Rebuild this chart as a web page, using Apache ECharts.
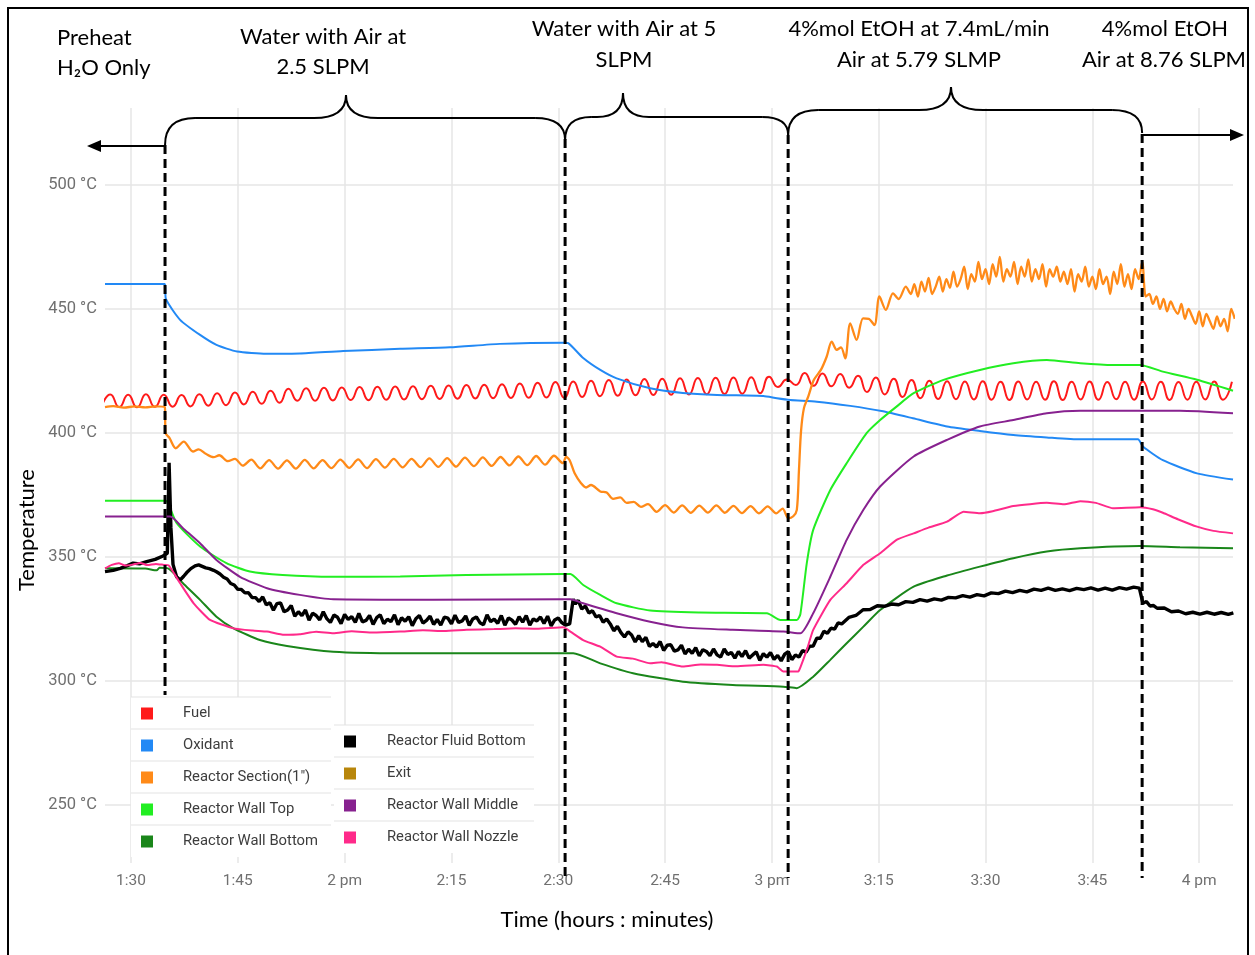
<!DOCTYPE html>
<html><head><meta charset="utf-8">
<script src="https://cdn.jsdelivr.net/npm/echarts@6/dist/echarts.min.js"></script>
<style>html,body{margin:0;padding:0;background:#fff}#c{width:1255px;height:955px}</style>
</head><body><div id="c"></div>
<script>
// time is in minutes after 12:00 (90 = 1:30 pm)
const xTickValues = [90,105,120,135,150,165,180,195,210,225,240];
const xTickLabels = ['1:30','1:45','2 pm','2:15','2:30','2:45','3 pm','3:15','3:30','3:45','4 pm'];
const yTickValues = [250,300,350,400,450,500];
const yTickLabels = ['250 °C','300 °C','350 °C','400 °C','450 °C','500 °C'];

const seriesNames = ['Fuel','Oxidant','Reactor Section(1")','Reactor Wall Top','Reactor Wall Bottom',
  'Reactor Fluid Bottom','Exit','Reactor Wall Middle','Reactor Wall Nozzle'];
const seriesColors = ['#ff1a1a','#2289f5','#ff8a18','#22ee22','#1a861a','#000000','#b8860b','#87218f','#ff2a8a'];
const seriesWidths = [2, 2, 2.3, 2, 2, 3.4, 2, 2, 2];

// phase change times (dashed lines)
const eventTimes = [94.78, 150.96, 182.28, 231.99];

// Fuel: oscillating signal sampled at its peaks / troughs
const fuelStart = 85.85, fuelStep = 1.25;
const fuelValues = [410.5,415.5,410.4,415.4,410.3,415.6,410.5,415.4,410.6,415.3,410.7,415.6,411.0,416.0,411.2,416.3,
411.5,416.6,411.8,417.0,412.2,417.8,413.0,418.0,413.0,418.2,413.1,418.3,413.3,418.5,413.2,418.6,413.4,418.7,413.5,418.8,
413.6,419.0,413.7,419.1,413.8,419.3,413.9,419.4,414.0,419.6,414.1,419.9,414.2,420.2,414.3,420.5,414.1,420.7,414.5,421.0,
414.8,421.3,415.0,421.5,415.2,421.7,415.3,421.8,415.4,422.0,415.5,422.1,415.6,422.2,415.7,422.3,415.8,422.4,416.0,422.6,
418.5,421.5,419.3,424.2,419.0,424.0,418.8,423.8,418.2,423.0,416.5,422.3,415.5,421.8,414.5,421.3,414.0,421.0,413.7,420.8,
413.6,420.7,413.5,420.8,413.4,420.6,413.3,420.7,413.5,420.6,413.4,420.8,413.3,420.6,413.5,420.7,413.4,420.5,413.6,420.6,
413.4,420.7,413.5,420.6,413.3,420.5,413.4,420.6,413.5,420.7,413.4,420.6];

const oxidant = [[86.35,460],[94.75,460],[94.9,454],[96.9,445.6],[99.7,439.5],[102,435.5],[104.9,432.8],[109,431.9],[113.7,432],
[119.8,433],[127.8,433.9],[134.8,434.5],[141.8,435.9],[150.7,436.4],[151.4,436.2],[153.5,430.2],[155.9,425.4],[158.2,422],
[162.9,418],[167.5,416.1],[172.3,415.3],[178.8,414.9],[180.7,414],[182.6,413.3],[186.3,412.6],[191,410.9],[195.4,408.8],
[199.8,405.9],[204.6,402.6],[209.2,400.8],[213.9,399.2],[218.6,398.2],[223.3,397.4],[231.4,397.4],[232.1,394.5],[234.9,389],
[239.7,383.7],[244.75,381.2]];

const reactorSection = [[86.35,410.4],[87.5,410.8],[89,410.2],[90.5,410.7],[92,410.3],[93.5,410.7],[94.75,410.4],[94.85,400],
[95.4,398],[96.3,393.8],[97.4,396.5],[98.7,392.5],[99.5,393.4],[100.5,391.6],[101.6,390.2],[102.4,391],[103.6,388.6],[104.6,389.5],
[105.7,386.8],[106.9,389.2],[108.15,385.7],[109.4,389.0],[110.65,385.6],[111.9,388.9],[113.15,385.6],[114.4,389.1],[115.65,385.7],
[116.9,389.0],[118.15,385.8],[119.4,389.2],[120.65,385.9],[121.9,389.3],[123.15,385.8],[124.4,389.4],[125.65,386.0],[126.9,389.5],
[128.15,386.1],[129.4,389.5],[130.65,386.2],[131.9,389.7],[133.15,386.3],[134.4,389.8],[135.65,386.4],[136.9,390.0],[138.15,386.6],
[139.4,390.1],[140.65,386.7],[141.9,390.3],[143.15,386.9],[144.4,390.5],[145.65,387.0],[146.9,390.7],[148.15,387.2],[149.4,390.8],
[150.65,387.8],[151.1,390.3],[151.6,389.0],[152.3,383.7],[153.2,379.7],[153.9,378.0],[154.6,379.0],[155.9,376.4],[156.8,376.0],
[157.7,373.4],[158.7,374.0],[159.6,371.8],[160.6,372.2],[161.6,370.2],[162.6,371.3],[163.8,368.2],[165.0,370.9],[166.2,367.9],
[167.4,370.8],[168.6,367.8],[169.8,370.7],[171.0,367.9],[172.2,370.8],[173.4,367.8],[174.6,370.6],[175.8,367.7],[177.0,370.5],
[178.2,367.6],[179.4,370.4],[180.6,367.6],[181.5,369.5],[182.3,365.6],[183.0,366.4],[183.5,369.0],[183.8,385],[184.1,401],
[184.5,410],[185.1,414.6],[185.9,421.4],[186.9,425.5],[187.7,430.8],[188.4,436.8],[189.1,433.5],[189.7,434.5],[190.3,430.1],
[191.0,444.2],[191.9,437.5],[192.8,446.2],[193.6,446],[194.4,443.5],[195.1,455],[196.0,449.6],[197.0,456.3],[197.8,454],
[198.8,459],[199.5,456]];
// noisy part of Reactor Section after 3:20, every half minute
const reactorNoiseStart = 200, reactorNoiseStep = 0.5;
const reactorNoise = [460,455,461,457,462.5,456,459,463,457,462,458.5,465,459,462,467,458,464,461,469,462,
466,460,468,463,471,461,466,463,469,460,467,463,470,461,466,462,468,459,466,463,
467,461,465,460,466,457,464,461,467,459,463,458,466,460,463,456,465,460,468,459,
464,458,466,462,469,455,456,452,455,450,454,449,453,450,448,452,446,450,447,444,
449,443,448,445,442,447,443,446,441,450,446];

const wallTop = [[86.35,372.7],[94.9,372.7],[95.2,371.8],[96.4,363.7],[99.7,354.2],[103.4,347.5],[106.7,344.1],[111.3,342.7],
[118.4,342.0],[127.8,342.1],[137.1,342.7],[150.7,343.1],[151.7,343.1],[153.5,338.7],[155.9,334.7],[158.2,331.3],[162.9,328.4],
[169.9,327.6],[179.3,327.3],[181.2,324.6],[183.5,324.6],[184.0,327],[184.9,347.5],[185.8,360.9],[188.2,377],[190.5,387.8],
[193.3,399.9],[195.2,405.2],[197.5,410.6],[199.9,416],[204.1,421.4],[209.2,425.4],[213.9,428.1],[218.6,429.4],[223.3,428.1],
[227.9,427.4],[231.7,427.4],[234.9,424.7],[239.7,421.4],[244.75,417]];

const wallBottom = [[86.35,345.4],[92,345.3],[93.6,344.6],[94.0,345.6],[95.2,345.4],[97.3,339.4],[99.7,332.7],[102,325.9],
[104.4,321.2],[108.1,316.5],[111.9,314.1],[118.4,311.8],[127.8,311.2],[150.7,311.2],[152.1,311.2],[155.9,307.1],[160.5,303.1],
[167.5,299.7],[174.5,298.4],[181.6,297.7],[183.5,297.1],[185.8,301.7],[188.2,308.5],[190.5,315.2],[192.85,321.9],[195.2,328.6],
[199.9,338],[204.6,342.5],[209.2,346.1],[213.9,349.5],[218.6,352.2],[223.3,353.5],[231.7,354.4],[237.3,353.9],[244.75,353.5]];

const fluidBottom = [[86.35,344.1],[87.5,344.6],[88.5,345.4],[89.5,346.5],[90.3,347.5],[91.2,347.2],[92.2,348.1],[93.4,349.0],
[94.5,350.4],[95.1,351.5],[95.35,388],[95.6,362],[95.9,347],[96.4,342],[96.9,340.7],[97.4,342.2],[97.8,343.6],[98.4,345.3],
[99.0,346.4],[99.5,346.8],[100.0,346.2],[100.5,345.6],[101.0,345.3],[101.6,344.6],[102.0,344.0],[102.5,343.1],[103.0,341.8],
[103.5,341.1],[104,339.3],[104.5,338.7],[105,336.9],[105.5,336.9],[106,335.5],[106.5,335.6],[107,333.6],[107.5,333.6],[108,332.0],
[108.5,333.9],[109,330.7],[109.5,331.5],[110,328.5],[110.5,331.2],[111,331.5],[111.5,327.9],[112,328.6],[112.5,330.4],[113,326.1],
[113.5,327.9],[114,326.3],[114.5,328.6],[115,324.5],[115.5,327.3],[116,326.4],[116.5,324.6],[117,327.9],[117.5,325.1],[118,323.6],
[118.5,326.6],[119,325.7],[119.5,323.1],[120,326.8],[120.5,324.8],[121,325.9],[121.5,323.6],[122,327.2],[122.5,323.8],[123,324.4],
[123.5,326.4],[124,322.8],[124.5,325.5],[125,326.6],[125.5,323.1],[126,324.9],[126.5,323.9],[127,326.7],[127.5,322.7],[128,325.5],
[128.5,324.1],[129,325.9],[129.5,322.3],[130,325.1],[130.5,326.4],[131,323.3],[131.5,324.4],[132,326.1],[132.5,322.8],[133,324.8],
[133.5,322.5],[134,325.7],[134.5,325.3],[135,323.0],[135.5,326.5],[136,323.6],[136.5,324.2],[137,326.2],[137.5,322.4],[138,325.0],
[138.5,325.8],[139,323.5],[139.5,322.7],[140,326.7],[140.5,323.9],[141,324.9],[141.5,323.2],[142,326.4],[142.5,322.5],[143,325.4],
[143.5,324.5],[144,322.8],[144.5,325.9],[145,323.7],[145.5,326.4],[146,322.5],[146.5,325.0],[147,324.2],[147.5,325.8],[148,323.2],
[148.5,326.1],[149,322.2],[149.5,324.6],[150,325.4],[150.5,323.5],[151.0,322.5],[151.6,323.0],[152.1,333.0],[152.4,331.0],
[152.8,332.5],[153.3,329.0],[153.8,330.2],[154.3,327.4],[154.8,328.3],[155.3,325.8],[155.8,326.4],[156.3,323.7],[156.8,325.0],
[157.3,323.0],[157.8,320.2],[158.3,322.0],[158.8,319.5],[159.3,317.7],[159.8,319.8],[160.3,318.5],[160.8,315.7],[161.3,318.3],
[161.8,315.8],[162.3,317.6],[162.8,313.9],[163.3,315.1],[163.8,313.7],[164.3,315.9],[164.8,312.3],[165.3,314.4],[165.8,314.6],
[166.3,312.0],[166.8,312.5],[167.3,314.4],[167.8,310.9],[168.3,312.8],[168.8,311.1],[169.3,313.4],[169.8,310.1],[170.3,312.6],
[170.8,311.9],[171.3,310.2],[171.8,312.9],[172.3,310.5],[172.8,309.6],[173.3,312.9],[173.8,310.7],[174.3,311.5],[174.8,309.2],
[175.3,311.9],[175.8,309.8],[176.3,312.2],[176.8,309.2],[177.3,310.5],[177.8,311.7],[178.3,308.3],[178.8,311.0],[179.3,309.6],
[179.8,311.5],[180.3,308.7],[180.8,310.3],[181.3,308.1],[181.8,310.8],[182.3,311.8],[182.8,308.6],[183.3,310.5],[183.8,309.6],
[184.3,312.2],[184.8,311.6],[185.3,314.0],[185.8,314.1],[186.3,317.2],[186.8,317.2],[187.3,320.0],[187.8,319.2],[188.3,321.3],
[188.8,320.9],[189.3,323.4],[189.8,323.0],[190.8,325.6],[191.8,326.4],[192.8,328.7],[193.8,328.8],[194.8,330.3],[195.8,330.1],
[196.8,331.0],[197.8,330.7],[198.8,332.0],[199.8,331.7],[200.8,332.8],[201.8,332.2],[202.8,333.1],[203.8,332.6],[204.8,333.7],
[205.8,333.5],[206.8,334.4],[207.8,333.8],[208.8,334.8],[209.8,334.3],[210.8,335.5],[211.8,335.2],[212.8,336.2],[213.8,335.6],
[214.8,336.5],[215.8,335.9],[216.8,337.0],[217.8,336.5],[218.8,337.4],[219.8,336.5],[220.8,337.1],[221.8,336.4],[222.8,337.3],
[223.8,336.8],[224.8,337.5],[225.8,336.6],[226.8,337.4],[227.8,336.6],[228.8,337.6],[229.8,337.0],[230.8,337.8],[231.6,337.4],
[232.1,331.3],[232.6,332.0],[233.1,330.2],[233.6,330.4],[234.1,329.3],[235.1,329.4],[236.1,327.9],[237.1,328.2],[238.1,327.1],
[239.1,327.7],[240.1,326.9],[241.1,327.7],[242.1,326.9],[243.1,327.6],[244.1,326.8],[244.8,327.4]];

const exitTemp = [];

const wallMiddle = [[86.35,366.3],[95.5,366.3],[97.3,361.6],[99.7,355.5],[102,348.8],[105.3,342],[109.1,337.4],[113.7,334.7],
[118.4,332.9],[132.4,332.7],[150.7,332.9],[151.7,332.9],[153.5,331.3],[158.2,327.3],[162.9,323.9],[167.5,321.6],[174.5,320.6],
[181.6,319.9],[184.0,319.2],[185.8,327.3],[188.2,342],[190.5,356.9],[192.85,369],[195.2,378.4],[199.9,390.5],[204.6,397.2],
[209.2,402.6],[213.9,405.2],[218.6,407.9],[223.3,408.9],[231.7,408.9],[237.3,408.9],[244.75,407.9]];

const wallNozzle = [[86.35,345.4],[87.3,346.8],[88.3,347.5],[89.2,346.5],[90.2,346.9],[91.3,347.6],[92.3,346.7],[93.5,347.2],
[94.6,346.8],[95.3,346.6],[96.9,339.4],[98.8,331.3],[101.1,324.6],[104.4,321.2],[107.1,320.3],[109.1,319.9],[111.5,318.6],
[113.7,318.8],[116,319.8],[118.4,319.2],[121,320.0],[124,319.5],[127.8,319.9],[131,320.4],[134,320.1],[137.1,320.6],[141,320.9],
[144,321.2],[147,321.0],[150.7,321.6],[151.7,319.9],[153.5,316.5],[155.9,313.8],[158.2,309.8],[160.5,309.0],[162.9,307.1],
[164.5,307.5],[167.5,305.8],[170,306.6],[172.3,306.5],[175,305.9],[178.8,306.5],[180.7,305.8],[181.6,303.8],[183.7,303.8],
[184.0,305.5],[184.9,312.5],[185.8,320.6],[188.2,332.7],[190.5,339.4],[192.85,346.8],[195.2,351.5],[197.5,356.9],[199.9,359.5],
[202,361.8],[204.6,364.2],[206.9,368.2],[209.2,367.6],[211,368.4],[213.9,370.5],[218.6,371.8],[221,371.2],[223.3,372.5],
[225.5,371.8],[227.9,369.6],[231.7,370.0],[233.5,369.2],[234.9,367.8],[237,365.2],[239.7,362.2],[242,360.5],[244.75,359.5]];

// ---- build series data ----
const fuel = fuelValues.map((v, i) => [fuelStart + i * fuelStep, v]);
const reactorAll = reactorSection.concat(reactorNoise.map((v, i) => [reactorNoiseStart + i * reactorNoiseStep, v]));
const seriesData = [fuel, oxidant, reactorAll, wallTop, wallBottom, fluidBottom, exitTemp, wallMiddle, wallNozzle];
const seriesSmooth = [0.55, 0.2, 0.3, 0.2, 0.2, false, false, 0.2, 0.15];

const FONT = 'Lato, "Open Sans", sans-serif';

const option = {
  animation: false,
  backgroundColor: '#ffffff',
  grid: { left: 105, right: 22, top: 108, bottom: 92, containLabel: false },
  xAxis: {
    type: 'value', min: 86.35, max: 244.75,
    axisLine: { show: false }, axisTick: { show: false, customValues: xTickValues },
    axisLabel: { customValues: xTickValues, margin: 10, color: '#707070', fontSize: 15.5, fontFamily: 'Roboto, Arial, sans-serif',
      formatter: v => xTickLabels[xTickValues.indexOf(v)] },
    splitLine: { show: true, lineStyle: { color: '#e6e6e6', width: 1.5 } }
  },
  yAxis: {
    type: 'value', min: 226.6, max: 531,
    axisLine: { show: false }, axisTick: { show: false, customValues: yTickValues },
    axisLabel: { customValues: yTickValues, margin: 8, color: '#707070', fontSize: 16.5, fontFamily: 'Roboto, Arial, sans-serif',
      formatter: v => yTickLabels[yTickValues.indexOf(v)] },
    splitLine: { show: true, lineStyle: { color: '#e6e6e6', width: 1.5 } }
  },
  legend: [
    { data: seriesNames.slice(0, 5), left: 131, top: 697, orient: 'vertical', icon: 'rect', itemWidth: 12, itemHeight: 12,
      itemGap: 17, padding: [9, 10, 11, 10], selectedMode: false, itemStyle: { borderWidth: 0 },
      formatter: n => '{n|' + n + '}',
      textStyle: { rich: { n: { padding: [0, 0, 0, 25], fontSize: 14.8, color: '#3d3d3d', fontFamily: 'Roboto, sans-serif' } } } },
    { data: seriesNames.slice(5), left: 334, top: 725, orient: 'vertical', icon: 'rect', itemWidth: 12, itemHeight: 12,
      itemGap: 17, padding: [9, 10, 11, 10], selectedMode: false, itemStyle: { borderWidth: 0 },
      formatter: n => '{n|' + n + '}',
      textStyle: { rich: { n: { padding: [0, 0, 0, 26], fontSize: 14.8, color: '#3d3d3d', fontFamily: 'Roboto, sans-serif' } } } }
  ],
  series: seriesNames.map((name, i) => ({
    name, type: 'line', data: seriesData[i], color: seriesColors[i],
    showSymbol: false, symbol: 'none', smooth: seriesSmooth[i], sampling: null,
    lineStyle: { width: seriesWidths[i], color: seriesColors[i] }, emphasis: { disabled: true }, z: 2
  }))
};

const chart = echarts.init(document.getElementById('c'));
chart.setOption(option);

// ---- annotations (phase markers, braces, labels) ----
const ex = eventTimes.map(t => chart.convertToPixel({ xAxisIndex: 0 }, t));
const g = [];
const S = { fill: 'none', stroke: '#000', lineWidth: 2 };
function quad(x1, y1, cx, cy, x2, y2) {
  g.push({ type: 'bezierCurve', shape: { x1, y1, x2, y2, cpx1: cx, cpy1: cy }, style: S, z: 15, silent: true });
}
function seg(x1, y1, x2, y2) {
  g.push({ type: 'line', shape: { x1, y1, x2, y2 }, style: S, z: 15, silent: true });
}
function brace(xL, yL, xR, yR, yF, xT, yT, r, rt) {
  quad(xL, yL, xL, yF, xL + r, yF);
  seg(xL + r, yF, xT - rt, yF);
  quad(xT - rt, yF, xT, yF, xT, yT);
  quad(xT, yT, xT, yF, xT + rt, yF);
  seg(xT + rt, yF, xR - r, yF);
  quad(xR - r, yF, xR, yF, xR, yR);
}

// legend table backgrounds and row rules
g.push({ type: 'rect', shape: { x: 131, y: 697, width: 200, height: 160 }, style: { fill: '#fff' }, z: 3, silent: true });
g.push({ type: 'rect', shape: { x: 334, y: 725, width: 200, height: 128 }, style: { fill: '#fff' }, z: 3, silent: true });
[697, 729, 761, 793, 825].forEach(y => g.push({ type: 'line', shape: { x1: 131, y1: y, x2: 331, y2: y }, style: { stroke: '#e3e3e3', lineWidth: 1 }, z: 3, silent: true }));
[725, 757, 789, 821].forEach(y => g.push({ type: 'line', shape: { x1: 334, y1: y, x2: 534, y2: y }, style: { stroke: '#e3e3e3', lineWidth: 1 }, z: 3, silent: true }));

// dashed phase lines
const dashTop = [145, 139, 135, 134], dashBottom = [695, 878, 878, 878];
ex.forEach((x, i) => g.push({ type: 'line', shape: { x1: x, y1: dashTop[i], x2: x, y2: dashBottom[i] },
  style: { stroke: '#000', lineWidth: 3, lineDash: [9, 5] }, z: 15, silent: true }));

// braces
brace(ex[0], 145, ex[1], 140, 118, 346, 95, 30, 32);
brace(ex[1], 140, ex[2], 135, 117, 623, 93, 26, 26);
brace(ex[2], 135, ex[3], 133, 110, 951, 87, 30, 32);

// arrows
seg(ex[0], 146, 100, 146);
g.push({ type: 'polygon', shape: { points: [[87, 146], [101, 140], [101, 152]] }, style: { fill: '#000' }, z: 15, silent: true });
seg(ex[3], 135, 1231, 135);
g.push({ type: 'polygon', shape: { points: [[1244, 135], [1230, 129], [1230, 141]] }, style: { fill: '#000' }, z: 15, silent: true });

// phase texts
const phaseText = [
  ['Preheat', 57, 38, 'left'], ['H\u2082O Only', 57, 68, 'left'],
  ['Water with Air at', 323, 37, 'center'], ['2.5 SLPM', 323, 67, 'center'],
  ['Water with Air at 5', 624, 29, 'center'], ['SLPM', 624, 60, 'center'],
  ['4%mol EtOH at 7.4mL/min', 919, 29, 'center'], ['Air at 5.79 SLMP', 919, 60, 'center'],
  ['4%mol EtOH', 1165, 29, 'center'], ['Air at 8.76 SLPM', 1164, 60, 'center']
];
phaseText.forEach(([t, x, y, a]) => g.push({ type: 'text', x, y, z: 15, silent: true,
  style: { text: t, fill: '#000', font: '22px ' + FONT, align: a, verticalAlign: 'middle' } }));

// axis titles
g.push({ type: 'text', x: 607, y: 920, z: 15, silent: true, style: { text: 'Time (hours : minutes)', fill: '#000', font: '22px ' + FONT, align: 'center', verticalAlign: 'middle' } });
g.push({ type: 'text', x: 27, y: 530, rotation: Math.PI / 2, z: 15, silent: true, style: { text: 'Temperature', fill: '#000', font: '22px ' + FONT, align: 'center', verticalAlign: 'middle' } });

// outer frame
g.push({ type: 'rect', shape: { x: 8, y: 8, width: 1240, height: 980 }, style: { fill: 'none', stroke: '#000', lineWidth: 2 }, z: 20, silent: true });

chart.setOption({ graphic: { elements: g } });
</script>
</body></html>
